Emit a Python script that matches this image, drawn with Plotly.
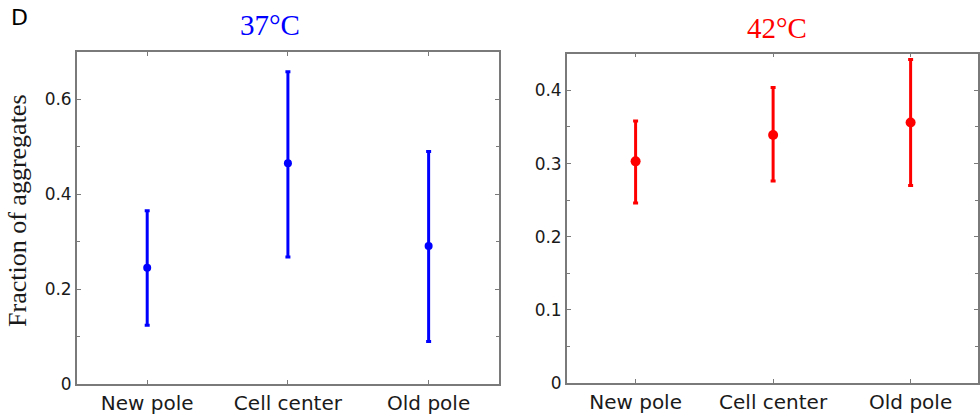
import plotly.graph_objects as go

categories = ["New pole", "Cell center", "Old pole"]

mean_37 = [0.245, 0.465, 0.291]
lower_37 = [0.124, 0.268, 0.090]
upper_37 = [0.365, 0.658, 0.490]

mean_42 = [0.303, 0.339, 0.356]
lower_42 = [0.246, 0.276, 0.270]
upper_42 = [0.358, 0.404, 0.442]

y_ticks_37 = [0, 0.2, 0.4, 0.6]
y_ticks_42 = [0, 0.1, 0.2, 0.3, 0.4]

BLUE = "#0000ff"
RED = "#ff0000"
AXC = "#7a7a7a"
TXT = "#1a1a1a"

H = 420  # design height (pixel positions below are in this frame)

fig = go.Figure()

def err(mean, lo, hi):
    plus = [h - m for h, m in zip(hi, mean)]
    minus = [m - l for m, l in zip(mean, lo)]
    return plus, minus

p, m = err(mean_37, lower_37, upper_37)
fig.add_trace(go.Scatter(
    x=categories, y=mean_37, mode="markers",
    marker=dict(color=BLUE, size=8),
    error_y=dict(type="data", array=p, arrayminus=m, color=BLUE, thickness=3, width=2.5),
    xaxis="x", yaxis="y", showlegend=False))

p, m = err(mean_42, lower_42, upper_42)
fig.add_trace(go.Scatter(
    x=categories, y=mean_42, mode="markers",
    marker=dict(color=RED, size=10),
    error_y=dict(type="data", array=p, arrayminus=m, color=RED, thickness=3, width=2.5),
    xaxis="x2", yaxis="y2", showlegend=False))

xcommon = dict(type="category", range=[-0.5, 2.5], showline=True, linecolor=AXC, linewidth=1.5,
               mirror="ticks", ticks="inside", ticklen=4, tickcolor=AXC, tickwidth=1,
               showgrid=False, zeroline=False,
               tickfont=dict(family="DejaVu Sans", size=20, color=TXT))
ycommon = dict(showline=True, linecolor=AXC, linewidth=1.5, mirror="ticks",
               ticks="inside", ticklen=4, tickcolor=AXC, tickwidth=1,
               showgrid=False, zeroline=False,
               tickfont=dict(family="DejaVu Sans", size=17, color=TXT))

fig.update_layout(
    width=980, height=428, autosize=False,
    margin=dict(l=0, r=0, t=0, b=0),
    paper_bgcolor="white", plot_bgcolor="white",
    xaxis=dict(domain=[77/980, 500/980], anchor="y", **xcommon),
    yaxis=dict(domain=[34/H, 368/H], anchor="x", range=[0, 0.7],
               tickvals=y_ticks_37, ticktext=["0", "0.2", "0.4", "0.6"],
               minor=dict(ticks="inside", ticklen=3, tickcolor=AXC, dtick=0.1, tick0=0),
               **ycommon),
    xaxis2=dict(domain=[568/980, 1.0], anchor="y2", **{**xcommon, "range": [-0.5, 2.49]}),
    yaxis2=dict(domain=[35/H, 366/H], anchor="x2", range=[0, 0.45],
                tickvals=y_ticks_42, ticktext=["0", "0.1", "0.2", "0.3", "0.4"],
                minor=dict(ticks="inside", ticklen=3, tickcolor=AXC, dtick=0.05, tick0=0),
                **ycommon),
    annotations=[
        dict(text="37°C", x=271/980, y=1 - 25/H, xref="paper", yref="paper",
             xanchor="center", yanchor="middle",
             showarrow=False, font=dict(family="Liberation Serif", size=29, color=BLUE)),
        dict(text="42°C", x=779/980, y=1 - 28/H, xref="paper", yref="paper",
             xanchor="center", yanchor="middle",
             showarrow=False, font=dict(family="Liberation Serif", size=29, color=RED)),
        dict(text="D", x=20/980, y=1 - 18/H, xref="paper", yref="paper",
             xanchor="center", yanchor="middle",
             showarrow=False, font=dict(family="DejaVu Sans", size=22, color="black")),
        dict(text="Fraction of aggregates", x=18/980, y=1 - 212/H, xref="paper", yref="paper",
             xanchor="center", yanchor="middle",
             showarrow=False, textangle=-90,
             font=dict(family="Liberation Serif", size=26, color=TXT)),
    ],
)

fig.write_html("out.html", config={"responsive": False})
